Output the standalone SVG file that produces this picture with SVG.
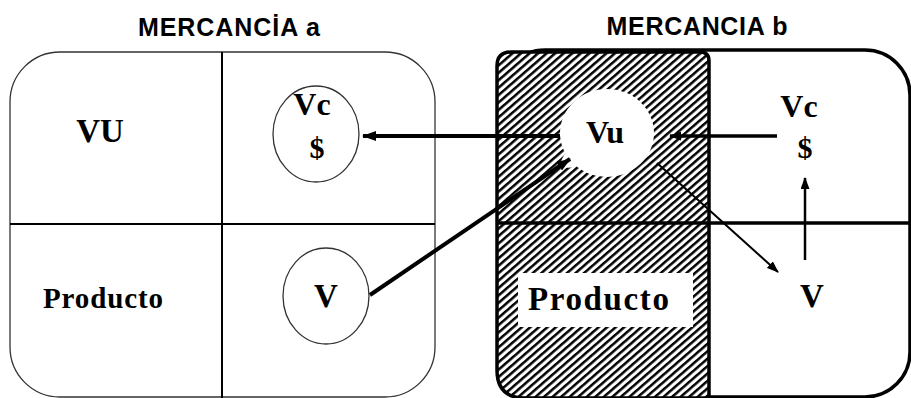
<svg xmlns="http://www.w3.org/2000/svg" width="911" height="398" viewBox="0 0 911 398">
<style>
.title{font-family:"Liberation Sans",Arial,sans-serif;font-weight:bold;font-size:25px;fill:#000}
.lbl{font-family:"Liberation Serif","Times New Roman",serif;font-weight:bold;fill:#000}
.thin{fill:none;stroke:#333;stroke-width:1.3}
.div{stroke:#000;stroke-width:2}
.conn{fill:none;stroke:#000}
</style>
<defs>
<pattern id="hatch" patternUnits="userSpaceOnUse" width="5.6" height="5.6" patternTransform="rotate(-41)">
<rect x="0" y="0" width="5.6" height="5.6" fill="#fff"/>
<rect x="0" y="0" width="5.6" height="2.5" fill="#000"/>
</pattern>
<marker id="ah" markerUnits="userSpaceOnUse" viewBox="0 0 14 10" markerWidth="14" markerHeight="10" refX="13" refY="5" orient="auto">
<path d="M0,0 L14,5 L0,10 Z" fill="#000"/>
</marker>
<marker id="ahs" markerUnits="userSpaceOnUse" viewBox="0 0 12 9" markerWidth="12" markerHeight="9" refX="11" refY="4.5" orient="auto">
<path d="M0,0 L12,4.5 L0,9 Z" fill="#000"/>
</marker>
</defs>
<rect width="911" height="398" fill="#fff"/>

<text class="title" x="229" y="36" text-anchor="middle" textLength="182">MERCANCİA a</text>
<text class="title" x="697" y="35" text-anchor="middle" textLength="181">MERCANCIA b</text>

<g id="mercancia-a">
<rect class="thin" x="10" y="52" width="425" height="345" rx="50" ry="50"/>
<line class="div" x1="222" y1="52" x2="222" y2="398"/>
<line class="div" x1="10" y1="224" x2="435" y2="224"/>
</g>

<g id="a-vu">
<text class="lbl" x="100" y="142" font-size="33" text-anchor="middle">VU</text>
</g>
<g id="a-vc">
<ellipse class="thin" cx="316" cy="134" rx="43" ry="48"/>
<text class="lbl" x="312" y="115" font-size="32" text-anchor="middle">Vc</text>
<text class="lbl" x="317" y="158" font-size="30" text-anchor="middle">$</text>
</g>
<g id="a-producto">
<text class="lbl" x="43" y="308" font-size="29" textLength="120">Producto</text>
</g>
<g id="a-v">
<ellipse class="thin" cx="326" cy="296" rx="43" ry="48"/>
<text class="lbl" x="326" y="307" font-size="33" text-anchor="middle">V</text>
</g>

<g id="mercancia-b">
<rect x="500" y="50" width="410" height="347" rx="45" ry="45" fill="#fff" stroke="#000" stroke-width="3.5"/>
<path d="M497,66 Q497,52 511,52 L700,52 Q709,52 709,61 L709,398 L525,398 Q497,398 497,370 Z" fill="url(#hatch)" stroke="#000" stroke-width="3.5"/>
<line x1="497" y1="223" x2="911" y2="223" stroke="#000" stroke-width="3.5"/>
<rect x="518" y="273" width="175" height="54" fill="#fff"/>
</g>

<g id="b-vu">
<ellipse cx="607" cy="133" rx="47" ry="44" fill="#fff"/>
<ellipse cx="573" cy="158" rx="13" ry="8" fill="#fff" transform="rotate(-34 573 158)"/>
<text class="lbl" x="605" y="143" font-size="32" text-anchor="middle">Vu</text>
</g>

<g id="connectors">
<line class="conn" x1="560" y1="136" x2="363" y2="136" stroke-width="4" marker-end="url(#ah)"/>
<line class="conn" x1="777" y1="136" x2="670" y2="136" stroke-width="3.5" marker-end="url(#ahs)"/>
<line class="conn" x1="370" y1="295" x2="570" y2="159" stroke-width="4" marker-end="url(#ah)"/>
<line class="conn" x1="657" y1="163" x2="778" y2="272" stroke-width="2" marker-end="url(#ahs)"/>
<line class="conn" x1="805" y1="260" x2="805" y2="178" stroke-width="2.5" marker-end="url(#ahs)"/>
</g>

<g id="b-vc">
<text class="lbl" x="799" y="117" font-size="32" text-anchor="middle">Vc</text>
<text class="lbl" x="805" y="158" font-size="30" text-anchor="middle">$</text>
</g>
<g id="b-producto">
<text class="lbl" x="528" y="310" font-size="33" textLength="141">Producto</text>
</g>
<g id="b-v">
<text class="lbl" x="812" y="307" font-size="33" text-anchor="middle">V</text>
</g>
</svg>
